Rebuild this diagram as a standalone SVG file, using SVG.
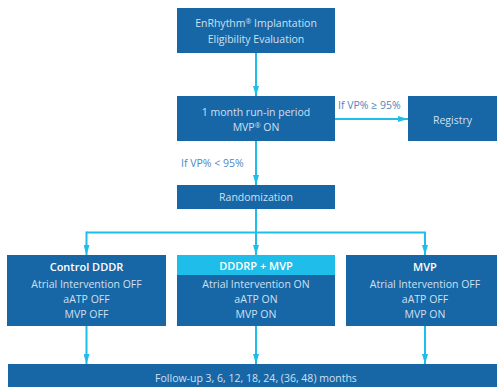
<svg xmlns="http://www.w3.org/2000/svg" width="498" height="387" viewBox="0 0 498 387">
<defs>
<style>
.box{fill:#1766a6}
.hdr{fill:#1fbde9}
.t{font-family:"Open Sans","Noto Sans",sans-serif;font-size:10.5px;fill:#cfe0f1;text-anchor:middle}
.h{font-family:"Open Sans","Noto Sans",sans-serif;font-size:11px;font-weight:600;fill:#ffffff;text-anchor:middle}
.lbl{font-family:"Open Sans","Noto Sans",sans-serif;font-size:10.5px;fill:#4f86c0}
.sup{font-size:7px}
.c{stroke:#1fbde9;stroke-width:2;fill:none}
</style>
<marker id="ah" viewBox="0 0 10 6" refX="10" refY="3" markerWidth="10" markerHeight="6" markerUnits="userSpaceOnUse" orient="auto">
<path d="M0,0 L10,3 L0,6 Z" fill="#1fbde9"/>
</marker>
</defs>
<g id="connectors">
<line class="c" x1="256" y1="53" x2="256" y2="96" marker-end="url(#ah)"/>
<line class="c" x1="335" y1="119" x2="408" y2="119" marker-end="url(#ah)"/>
<line class="c" x1="256" y1="141" x2="256" y2="185" marker-end="url(#ah)"/>
<line class="c" x1="256" y1="209" x2="256" y2="255" marker-end="url(#ah)"/>
<polyline class="c" points="86.5,232.5 425,232.5 425,255" marker-end="url(#ah)"/>
<path class="c" d="M86.5,231.5 V255" marker-end="url(#ah)"/>
<line class="c" x1="86.5" y1="326" x2="86.5" y2="364" marker-end="url(#ah)"/>
<line class="c" x1="256" y1="326" x2="256" y2="364" marker-end="url(#ah)"/>
<line class="c" x1="425" y1="326" x2="425" y2="364" marker-end="url(#ah)"/>
<text class="lbl" x="338" y="109">If VP% ≥ 95%</text>
<text class="lbl" x="181" y="167">If VP% &lt; 95%</text>
</g>
<g id="eval">
<rect class="box" x="177" y="8" width="158" height="45"/>
<text class="t" x="256" y="27">EnRhythm<tspan class="sup" dy="-3">®</tspan><tspan dy="3"> Implantation</tspan></text>
<text class="t" x="256" y="43">Eligibility Evaluation</text>
</g>
<g id="runin">
<rect class="box" x="177" y="96" width="158" height="45"/>
<text class="t" x="256" y="116">1 month run-in period</text>
<text class="t" x="256" y="131">MVP<tspan class="sup" dy="-3">®</tspan><tspan dy="3"> ON</tspan></text>
</g>
<g id="registry">
<rect class="box" x="408" y="96" width="89" height="45"/>
<text class="t" x="452.5" y="124">Registry</text>
</g>
<g id="randomization">
<rect class="box" x="177" y="185" width="158" height="24"/>
<text class="t" x="256" y="201">Randomization</text>
</g>
<g id="control">
<rect class="box" x="7" y="255" width="159" height="71"/>
<text class="h" x="86.5" y="271">Control DDDR</text>
<text class="t" x="86.5" y="288">Atrial Intervention OFF</text>
<text class="t" x="86.5" y="303">aATP OFF</text>
<text class="t" x="86.5" y="318">MVP OFF</text>
</g>
<g id="dddrp">
<rect class="box" x="177" y="255" width="158" height="71"/>
<rect class="hdr" x="177" y="255" width="158" height="20"/>
<text class="h" x="256" y="270">DDDRP + MVP</text>
<text class="t" x="256" y="288">Atrial Intervention ON</text>
<text class="t" x="256" y="303">aATP ON</text>
<text class="t" x="256" y="318">MVP ON</text>
</g>
<g id="mvp">
<rect class="box" x="346" y="255" width="151" height="71"/>
<text class="h" x="425" y="271">MVP</text>
<text class="t" x="425" y="288">Atrial Intervention OFF</text>
<text class="t" x="425" y="303">aATP OFF</text>
<text class="t" x="425" y="318">MVP ON</text>
</g>
<g id="followup">
<rect class="box" x="8" y="364" width="489" height="23"/>
<text class="t" x="256" y="382">Follow-up 3, 6, 12, 18, 24, (36, 48) months</text>
</g>
</svg>
